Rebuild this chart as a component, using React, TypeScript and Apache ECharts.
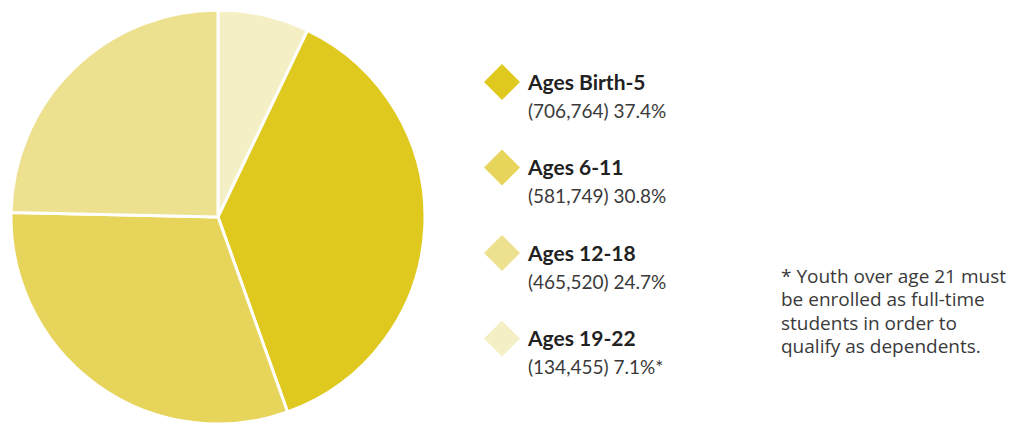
import React, { useEffect, useRef } from "react";
import * as echarts from "echarts";

const categories = ["Ages 19-22", "Ages Birth-5", "Ages 6-11", "Ages 12-18"];
const counts = [134455, 706764, 581749, 465520];
const percents = ["7.1%*", "37.4%", "30.8%", "24.7%"];
const countLabels = ["134,455", "706,764", "581,749", "465,520"];
const colors = ["#f5efc6", "#dfc91f", "#e6d55a", "#ede08f"];
const legendOrder = ["Ages Birth-5", "Ages 6-11", "Ages 12-18", "Ages 19-22"];
const footnote = "* Youth over age 21 must\nbe enrolled as full-time\nstudents in order to\nqualify as dependents.";

export default function App() {
  const ref = useRef<HTMLDivElement>(null);
  useEffect(() => {
    if (!ref.current) return;
    const chart = echarts.init(ref.current, null, { renderer: "svg" });
    const font = "Lato, 'Open Sans', sans-serif";
    chart.setOption({
      animation: false,
      backgroundColor: "#ffffff",
      legend: {
        orient: "vertical",
        left: 479,
        top: 35,
        itemWidth: 36,
        itemHeight: 36,
        itemGap: 6,
        icon: "diamond",
        itemStyle: { borderWidth: 0 },
        data: legendOrder,
        formatter: (name: string) => {
          const i = categories.indexOf(name);
          return `{sp| }\n{name|${name}}\n{val|(${countLabels[i]}) ${percents[i]}}`;
        },
        textStyle: {
          rich: {
            sp: { lineHeight: 26, height: 26, fontSize: 10, padding: [0, 0, 0, 3] },
            name: { fontFamily: font, fontWeight: "bold", fontSize: 21, color: "#222222", lineHeight: 30, padding: [0, 0, 0, 3] },
            val: { fontFamily: font, fontSize: 19, color: "#3a3a3a", lineHeight: 28, padding: [0, 0, 0, 3] },
          },
        },
      },
      graphic: [
        {
          type: "text",
          left: 781,
          top: 264,
          style: {
            text: footnote,
            fontFamily: "'Open Sans', sans-serif",
            fontSize: 19,
            lineHeight: 23.5,
            fill: "#3a3a3a",
          },
        },
      ],
      series: [
        {
          type: "pie",
          center: [218, 217],
          radius: [0, 207],
          startAngle: 90,
          clockwise: true,
          label: { show: false },
          labelLine: { show: false },
          emphasis: { disabled: true },
          itemStyle: { borderColor: "#ffffff", borderWidth: 3 },
          data: categories.map((c, i) => ({
            name: c,
            value: counts[i],
            itemStyle: { color: colors[i] },
          })),
        },
      ],
    });
    return () => chart.dispose();
  }, []);
  return <div ref={ref} style={{ width: 1034, height: 424, position: "absolute", left: 0, top: 0 }} />;
}
